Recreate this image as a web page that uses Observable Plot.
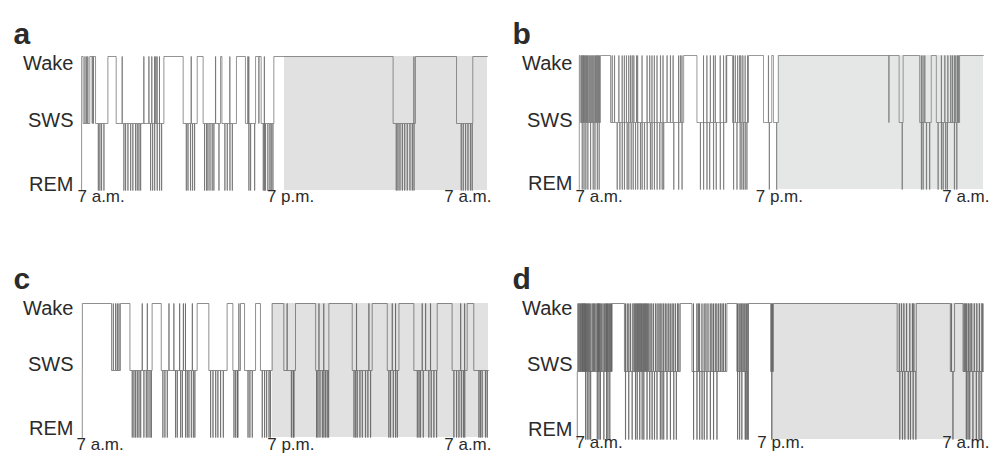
<!DOCTYPE html>
<html><head><meta charset="utf-8">
<script src="https://cdn.jsdelivr.net/npm/d3@7"></script>
<script src="https://cdn.jsdelivr.net/npm/@observablehq/plot@0.6"></script>
<style>
body{margin:0;background:#fff;width:998px;height:458px;position:relative;overflow:hidden;font-family:"Liberation Sans",Arial,sans-serif;}
.panel{position:absolute;}
</style></head><body>
<div id="pa" class="panel" style="left:0;top:0"></div>
<div id="pb" class="panel" style="left:499px;top:0"></div>
<div id="pc" class="panel" style="left:0;top:229px"></div>
<div id="pd" class="panel" style="left:499px;top:229px"></div>
<script>
// stage levels: 0 = REM, 1 = SWS, 2 = Wake
const stageLabels = ["REM", "SWS", "Wake"];
const tickHours = [0, 12, 24];           // hours after 7 a.m.
const tickLabels = ["7 a.m.", "7 p.m.", "7 a.m."];
const panelLetters = ["a", "b", "c", "d"];

// ---- panel a ----
const aWake = [[0.01,0.10],[0.49,0.83],[1.56,2.05],[4.87,6.01],[6.84,7.19],[8.22,8.30],[9.16,9.69],[10.29,10.62],[11.37,18.42],[19.74,22.17],[23.13,24]];
const aWakeSpk = [0.20,0.30,0.37,2.40,3.68,3.98,4.15,4.32,4.39,4.47,4.61,6.48,7.92,8.77,9.83,9.89,10.81,19.65];
const aSWSSpk = [0.63,0.70,10.48];
const aREM = [0.99,1.08,1.18,1.32,2.50,2.60,2.74,2.90,3.03,3.19,3.29,3.39,3.49,4.08,4.20,4.32,4.47,4.61,4.73,6.19,6.29,6.44,6.56,6.68,7.27,7.39,7.47,7.59,7.72,7.82,8.12,8.47,8.61,8.77,8.91,9.89,9.99,10.23,10.74,10.81,10.87,11.01,11.13,11.21,11.31,18.60,18.70,18.82,18.96,19.10,19.25,19.41,19.55,19.65,22.44,22.56,22.70,22.84,22.99,23.09];
const aDark = 12.0;

// ---- panel b ----
const bWake = [[0.01,0.06],[1.26,1.86],[6.20,6.99],[8.76,9.10],[10.05,10.94],[11.43,11.53],[11.82,18.99],[19.23,20.21],[20.90,21.20],[22.58,24]];
const bWakeSpk = [0.12,0.17,0.22,0.26,0.30,0.36,0.42,0.47,0.52,0.58,0.64,0.70,0.76,0.82,0.88,0.95,1.00,1.05,1.10,1.15,1.20,1.95,2.09,2.35,2.55,2.68,2.80,2.94,3.04,3.14,3.24,3.40,3.47,3.73,4.03,4.18,4.32,4.46,4.62,4.82,4.97,5.21,5.41,5.57,5.90,6.00,6.10,7.38,7.58,7.78,7.97,8.07,8.37,8.57,8.72,9.16,9.26,9.40,9.52,9.59,9.71,9.85,9.99,11.23,20.31,20.41,20.51,21.50,21.70,21.88,22.05,22.15,22.27,22.35,22.45,22.52];
const bSWSSpk = [18.38];
const bREM = [0.18,0.28,0.39,0.51,0.67,0.83,0.93,1.07,1.18,2.25,2.41,2.55,2.68,2.84,2.94,3.08,3.20,3.34,3.47,3.63,3.73,3.87,4.03,4.22,4.32,4.46,4.62,4.78,4.92,5.01,5.61,5.90,6.10,7.19,7.38,7.58,7.74,7.97,8.13,8.37,8.57,9.16,9.36,9.55,9.65,9.75,9.85,9.95,11.28,11.72,19.17,20.31,20.41,20.61,20.80,21.30,21.50,21.60,21.75,21.85,22.27,22.41];
const bDark = 11.82;

// ---- panel c ----
const cWake = [[0.01,1.73],[2.26,2.82],[4.13,4.67],[6.79,7.48],[8.56,8.90],[9.35,9.59],[10.24,10.53],[11.22,11.91],[12.60,13.79],[14.57,15.95],[17.13,18.02],[18.71,19.59],[20.97,21.85],[22.74,23.13]];
const cWakeSpk = [1.83,1.97,2.07,2.17,3.54,3.84,5.12,5.41,5.75,5.97,6.10,6.50,9.25,12.10,13.98,14.27,16.20,16.93,18.31,18.51,20.08,20.28,20.57,22.35,22.59];
const cSWSSpk = [];
const cREM = [2.95,3.05,3.15,3.25,3.35,3.45,3.64,3.78,3.88,4.00,4.08,4.76,4.88,5.02,5.51,5.61,5.81,5.91,6.10,6.20,6.30,6.44,6.56,6.65,7.58,7.72,7.88,8.01,8.17,8.33,8.96,9.06,9.16,9.19,9.79,9.90,10.04,10.63,10.77,10.89,11.03,11.11,12.35,12.46,12.50,13.84,13.92,14.04,14.18,14.27,14.37,14.47,14.55,16.05,16.15,16.24,16.40,16.54,16.73,16.87,17.03,18.11,18.21,18.37,18.51,18.61,19.79,19.89,19.98,20.14,20.47,20.61,20.77,20.93,21.95,22.11,22.25,22.39,22.51,22.59,23.43,23.52,23.62,23.82,23.92];
const cDark = 11.22;

// ---- panel d ----
const dWake = [[2.06,2.79],[6.09,6.78],[8.84,9.43],[10.12,11.43],[11.59,18.90],[20.03,22.04],[22.29,22.79]];
const dWakeSpk = [0.04,0.10,0.16,0.21,0.27,0.31,0.35,0.40,0.44,0.49,0.55,0.60,0.66,0.72,0.80,0.88,0.95,1.02,1.10,1.18,1.22,1.26,1.30,1.36,1.44,1.52,1.60,1.68,1.73,1.78,1.83,1.90,1.97,2.02,2.85,2.95,3.05,3.15,3.28,3.36,3.42,3.48,3.55,3.60,3.66,3.72,3.78,3.84,3.90,3.96,4.02,4.08,4.15,4.22,4.30,4.40,4.50,4.62,4.72,4.82,4.90,5.00,5.10,5.20,5.30,5.40,5.50,5.60,5.70,5.80,5.92,6.00,6.87,7.07,7.15,7.23,7.37,7.50,7.60,7.72,7.86,7.95,8.05,8.15,8.25,8.35,8.45,8.55,8.64,8.75,9.47,9.55,9.62,9.70,9.78,9.85,9.92,10.00,10.07,11.47,11.53,19.02,19.15,19.29,19.45,19.64,19.80,19.88,22.10,22.85,22.92,23.00,23.10,23.20,23.30,23.45,23.60,23.75,23.90,23.96];
const dSWSSpk = [];
const dREM = [0.49,0.59,0.69,0.79,1.18,1.28,1.37,1.57,1.73,1.81,1.92,2.85,3.04,3.24,3.44,3.54,3.69,3.83,3.93,4.12,4.28,4.42,4.56,4.71,4.91,5.01,5.11,5.30,5.50,5.70,5.85,6.87,7.07,7.23,7.37,7.50,7.66,7.86,8.05,8.25,9.47,9.59,9.72,9.92,9.97,10.04,10.10,11.49,19.05,19.21,19.35,19.55,19.68,19.84,20.00,22.19,22.98,23.08,23.18,23.37,23.57,23.73,23.86];
const dDark = 11.49;

function buildHypnogram(wake, wakeSpk, swsSpk, rem) {
  const base = t => wake.some(([s, e]) => t >= s && t < e) ? 2 : 1;
  const ev = [{t: 0, s: 0}, {t: 0.005, s: base(0.005)}];
  for (const [s, e] of wake) { ev.push({t: s, s: 2}); if (e < 24) ev.push({t: e, s: 1}); }
  const spikes = (list, st) => { for (const t of list) { ev.push({t, s: st}); ev.push({t: t + 0.012, s: base(t + 0.012)}); } };
  spikes(wakeSpk, 2); spikes(swsSpk, 1); spikes(rem, 0);
  ev.sort((p, q) => p.t - q.t);
  ev.push({t: 24, s: ev[ev.length - 1].s});
  return ev;
}

const W = 499, H = 229;
const panels = [
  {el: "pa", wake: aWake, ws: aWakeSpk, ss: aSWSSpk, rem: aREM, dark: aDark, ml: 81, mr: 12, mt: 56, mb: 39,
   tickDy: 11.3, tickDx: [-4, 6, 4], labDy: [-6.4, -3.1, 7.0], letterY: 31.7, fill: "#e1e1e1", stroke: "#666"},
  {el: "pb", wake: bWake, ws: bWakeSpk, ss: bSWSSpk, rem: bREM, dark: bDark, ml: 79.7, mr: 15, mt: 55, mb: 40,
   tickDy: 12.6, tickDx: [-3.7, -2, 6], labDy: [-6.1, -2.1, 7.9], letterY: 31.7, fill: "#e5e7e7", stroke: "#6e6e6e"},
  {el: "pc", wake: cWake, ws: cWakeSpk, ss: cSWSSpk, rem: cREM, dark: cDark, ml: 81.7, mr: 11, mt: 74, mb: 21,
   tickDy: 12.3, tickDx: [-5.7, 5.5, 3], labDy: [-8.7, -6.4, 5.3], letterY: 47.7, fill: "#e1e1e1", stroke: "#5e5e5e"},
  {el: "pd", wake: dWake, ws: dWakeSpk, ss: dSWSSpk, rem: dREM, dark: dDark, ml: 77.7, mr: 15, mt: 74, mb: 19,
   tickDy: 8.3, tickDx: [-1.7, 0.5, 6], labDy: [-9.7, -7.4, 5.3], letterY: 47.7, fill: "#e1e1e1", stroke: "#5a5a5a"}
];
const anchors = ["start", "middle", "end"];

panels.forEach((p, i) => {
  const data = buildHypnogram(p.wake, p.ws, p.ss, p.rem);
  const marks = [
    Plot.rect([{x1: p.dark, x2: 24, y1: 0, y2: 2}], {x1: "x1", x2: "x2", y1: "y1", y2: "y2", fill: p.fill}),
    Plot.line(data, {x: "t", y: "s", curve: "step-after", stroke: p.stroke, strokeWidth: 0.7})
  ];
  stageLabels.forEach((lab, k) => {
    marks.push(Plot.text([{s: k, lab}], {y: "s", text: "lab", frameAnchor: "left", textAnchor: "end",
      dx: 73 - p.ml, dy: p.labDy[k], fontSize: 20, fill: "#2b2b2b"}));
  });
  tickHours.forEach((h, k) => {
    marks.push(Plot.text([{h, lab: tickLabels[k]}], {x: "h", text: "lab", frameAnchor: "bottom", textAnchor: anchors[k],
      dx: p.tickDx[k], dy: p.tickDy, fontSize: 17, fill: "#2b2b2b"}));
  });
  marks.push(Plot.text([{lab: panelLetters[i]}], {text: "lab", frameAnchor: "top-left", textAnchor: "start",
    dx: 13 - p.ml, dy: p.letterY - p.mt - 9.6, fontSize: 30, fontWeight: "bold", fill: "#2b2b2b"}));
  const chart = Plot.plot({
    width: W, height: H,
    marginLeft: p.ml, marginRight: p.mr, marginTop: p.mt, marginBottom: p.mb,
    x: {domain: [0, 24], axis: null},
    y: {domain: [0, 2], axis: null},
    style: {fontFamily: "'Liberation Sans', Arial, sans-serif", background: "transparent", overflow: "visible"},
    marks
  });
  document.getElementById(p.el).appendChild(chart);
});
</script>
</body></html>
